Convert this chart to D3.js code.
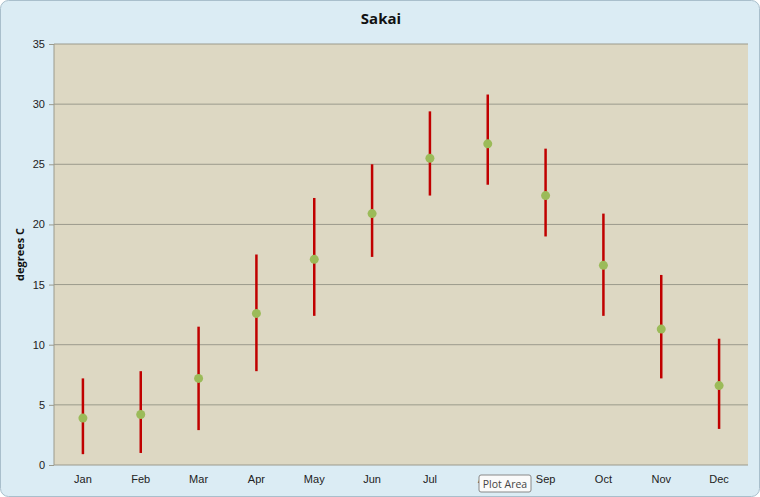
<!DOCTYPE html>
<html>
<head>
<meta charset="utf-8">
<script src="https://cdn.jsdelivr.net/npm/d3@7"></script>
<style>
  body { margin: 0; background: #fff; }
  svg { display: block; font-family: "Open Sans", "Noto Sans", sans-serif; }
</style>
</head>
<body>
<script>
var months = ['Jan','Feb','Mar','Apr','May','Jun','Jul','Aug','Sep','Oct','Nov','Dec'];
var highs = [7.2, 7.8, 11.5, 17.5, 22.2, 25.0, 29.4, 30.8, 26.3, 20.9, 15.8, 10.5];
var lows  = [0.9, 1.0, 2.9, 7.8, 12.4, 17.3, 22.4, 23.3, 19.0, 12.4, 7.2, 3.0];
var means = [3.9, 4.2, 7.2, 12.6, 17.1, 20.9, 25.5, 26.7, 22.4, 16.6, 11.3, 6.6];
var yTicks = [0, 5, 10, 15, 20, 25, 30, 35];

var data = months.map(function(m, i) {
  return {month: m, high: highs[i], low: lows[i], mean: means[i]};
});

var W = 760, H = 497,
    margins = {top: 44, right: 12, bottom: 32, left: 54},
    chart_dim = {width: W - margins.left - margins.right, height: H - margins.top - margins.bottom};

var svg = d3.select('body').append('svg')
  .attr('width', W)
  .attr('height', H);

svg.append('rect')
  .attr('x', 0.5).attr('y', 0.5)
  .attr('width', W - 1).attr('height', H - 1)
  .attr('rx', 8)
  .attr('fill', '#dbecf4')
  .attr('stroke', '#a9bfcc');

var plot = svg.append('g')
  .attr('transform', 'translate(' + margins.left + ',' + margins.top + ')');

var x = d3.scaleBand().domain(months).range([0, chart_dim.width]);
var y = d3.scaleLinear().domain([0, 35]).range([chart_dim.height, 0]);

plot.append('rect')
  .attr('width', chart_dim.width)
  .attr('height', chart_dim.height)
  .attr('fill', '#ddd8c3');

// gridlines
plot.selectAll('line.grid')
  .data(yTicks)
  .enter().append('line')
  .attr('class', 'grid')
  .attr('x1', 0).attr('x2', chart_dim.width)
  .attr('y1', function(d) { return y(d); })
  .attr('y2', function(d) { return y(d); })
  .attr('stroke', '#9b9a8c')
  .attr('stroke-width', 1);

plot.append('line')
  .attr('x1', 0).attr('x2', 0)
  .attr('y1', 0).attr('y2', chart_dim.height)
  .attr('stroke', '#9b9a8c');

var yAxis = d3.axisLeft(y).tickValues(yTicks).tickSize(5).tickPadding(4);
var gy = plot.append('g').call(yAxis);
gy.select('.domain').remove();
gy.selectAll('line').attr('stroke', '#9b9a8c');
gy.selectAll('text').attr('font-size', 11).attr('fill', '#222');

var xAxis = d3.axisBottom(x).tickSize(0).tickPadding(10);
var gx = plot.append('g')
  .attr('transform', 'translate(0,' + chart_dim.height + ')')
  .call(xAxis);
gx.select('.domain').remove();
gx.selectAll('text').attr('font-size', 11).attr('fill', '#222');

// high-low bars
plot.selectAll('line.range')
  .data(data)
  .enter().append('line')
  .attr('class', 'range')
  .attr('x1', function(d) { return x(d.month) + x.bandwidth() / 2; })
  .attr('x2', function(d) { return x(d.month) + x.bandwidth() / 2; })
  .attr('y1', function(d) { return y(d.high); })
  .attr('y2', function(d) { return y(d.low); })
  .attr('stroke', '#c00000')
  .attr('stroke-width', 2.5);

// means
plot.selectAll('circle')
  .data(data)
  .enter().append('circle')
  .attr('cx', function(d) { return x(d.month) + x.bandwidth() / 2; })
  .attr('cy', function(d) { return y(d.mean); })
  .attr('r', 4.5)
  .attr('fill', '#9bbb59');

svg.append('text')
  .text('Sakai')
  .attr('x', 381).attr('y', 24)
  .attr('text-anchor', 'middle')
  .attr('font-size', 15)
  .attr('font-weight', 'bold')
  .attr('fill', '#111');

svg.append('text')
  .text('degrees C')
  .attr('transform', 'translate(24,' + (margins.top + chart_dim.height / 2) + ') rotate(-90)')
  .attr('text-anchor', 'middle')
  .attr('font-size', 11)
  .attr('font-weight', 'bold')
  .attr('fill', '#111');

// tooltip left on screen
var tip = svg.append('g').attr('transform', 'translate(479,475)');
tip.append('rect')
  .attr('width', 52).attr('height', 17).attr('rx', 2)
  .attr('fill', '#fafafa').attr('stroke', '#888');
tip.append('text')
  .text('Plot Area')
  .attr('x', 26).attr('y', 12.5)
  .attr('text-anchor', 'middle')
  .attr('font-size', 10.5)
  .attr('fill', '#444');
</script>
</body>
</html>
